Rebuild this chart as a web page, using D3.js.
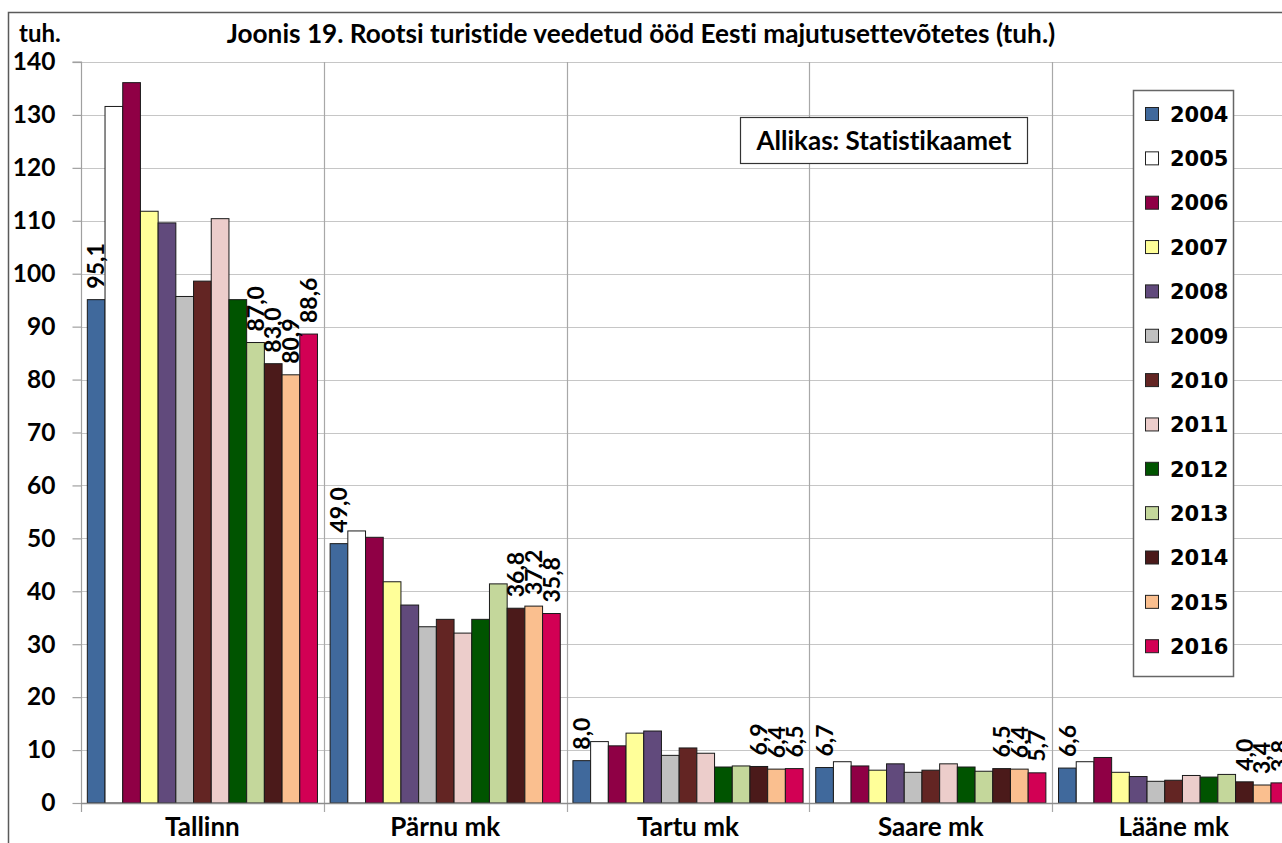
<!DOCTYPE html>
<html>
<head>
<meta charset="utf-8">
<script src="https://cdn.jsdelivr.net/npm/d3@7"></script>
<style>
  html, body { margin: 0; padding: 0; background: #fff; }
  svg { display: block; }
  text { font-family: Lato, "Open Sans", sans-serif; font-weight: bold; fill: #000; font-variant-ligatures: none; }
</style>
</head>
<body>
<svg id="chart" width="1282" height="843"></svg>
<script>
const title = "Joonis 19. Rootsi turistide veedetud ööd Eesti majutusettevõtetes (tuh.)";
const unitLabel = "tuh.";
const sourceLabel = "Allikas: Statistikaamet";
const categories = ["Tallinn", "Pärnu mk", "Tartu mk", "Saare mk", "Lääne mk"];
const years = ["2004","2005","2006","2007","2008","2009","2010","2011","2012","2013","2014","2015","2016"];
const yTicks = [0,10,20,30,40,50,60,70,80,90,100,110,120,130,140];

const tallinn = [95.1,131.6,136.1,111.8,109.6,95.7,98.6,110.4,95.1,87.0,83.0,80.9,88.6];
const parnu   = [49.0,51.4,50.2,41.8,37.4,33.3,34.7,32.1,34.7,41.4,36.8,37.2,35.8];
const tartu   = [8.0,11.6,10.8,13.2,13.6,9.0,10.4,9.4,6.8,7.0,6.9,6.4,6.5];
const saare   = [6.7,7.8,7.0,6.2,7.4,5.8,6.2,7.4,6.8,6.0,6.5,6.4,5.7];
const laane   = [6.6,7.8,8.6,5.8,5.0,4.1,4.3,5.2,4.9,5.4,4.0,3.4,3.8];

const colors = ["#40699c","#ffffff","#8f0045","#ffff99","#614a7c","#c0c0c0","#632523","#eccdcb","#005400","#c4d79b","#4b1a1a","#fabf8f","#d20054"];

// which bars carry a value label: [category, year]
const labelled = [
  ["Tallinn","2004"],["Tallinn","2013"],["Tallinn","2014"],["Tallinn","2015"],["Tallinn","2016"],
  ["Pärnu mk","2004"],["Pärnu mk","2014"],["Pärnu mk","2015"],["Pärnu mk","2016"],
  ["Tartu mk","2004"],["Tartu mk","2014"],["Tartu mk","2015"],["Tartu mk","2016"],
  ["Saare mk","2004"],["Saare mk","2014"],["Saare mk","2015"],["Saare mk","2016"],
  ["Lääne mk","2004"],["Lääne mk","2014"],["Lääne mk","2015"],["Lääne mk","2016"]
];

const valuesByCat = {"Tallinn": tallinn, "Pärnu mk": parnu, "Tartu mk": tartu, "Saare mk": saare, "Lääne mk": laane};
const rows = [];
categories.forEach(c => years.forEach((yr, i) => rows.push({cat: c, year: yr, value: valuesByCat[c][i], color: colors[i]})));

const svg = d3.select("#chart");
const plotLeft = 81, plotTop = 62, plotBottom = 803, catW = 242.8;

const x0 = d3.scaleBand().domain(categories).range([plotLeft, plotLeft + catW * categories.length]).padding(0);
const x1 = d3.scaleBand().domain(years).range([0, x0.bandwidth()]).paddingInner(0).paddingOuter(0.357);
const y = d3.scaleLinear().domain([0, 140]).range([plotBottom, plotTop]);

// outer chart border
svg.append("rect").attr("x", 8.5).attr("y", 12.5).attr("width", 1400).attr("height", 900)
  .attr("fill", "#fff").attr("stroke", "#5a5a5a").attr("stroke-width", 1.5);

// horizontal gridlines
svg.append("g").selectAll("line").data(yTicks.slice(1)).join("line")
  .attr("x1", plotLeft).attr("x2", 1400)
  .attr("y1", d => Math.round(y(d)) + 0.5).attr("y2", d => Math.round(y(d)) + 0.5)
  .attr("stroke", "#c6c6c6").attr("stroke-width", 1.2);

// vertical category separators
svg.append("g").selectAll("line").data(categories.slice(1).concat(["__end"])).join("line")
  .attr("x1", (d, i) => Math.round(plotLeft + catW * (i + 1)) + 0.5)
  .attr("x2", (d, i) => Math.round(plotLeft + catW * (i + 1)) + 0.5)
  .attr("y1", plotTop).attr("y2", plotBottom + 9)
  .attr("stroke", "#a8a8a8").attr("stroke-width", 1.2);

// y axis
const yAxis = d3.axisLeft(y).tickValues(yTicks).tickSize(9).tickPadding(17).tickFormat(d3.format("d"));
const gy = svg.append("g").attr("transform", `translate(${plotLeft + 0.5},0)`).call(yAxis);
gy.select(".domain").attr("stroke", "#a0a0a0").attr("stroke-width", 1.2).attr("d", `M-9,${plotTop}H0V${plotBottom + 9}`);
gy.selectAll(".tick line").attr("stroke", "#a0a0a0").attr("stroke-width", 1.2);
gy.selectAll(".tick text").style("font-family", "Lato, sans-serif").style("font-weight", "bold")
  .style("font-size", "24.5px").attr("fill", "#000");

// bars
svg.append("g").selectAll("rect").data(rows).join("rect")
  .attr("x", d => x0(d.cat) + x1(d.year))
  .attr("y", d => y(d.value))
  .attr("width", x1.bandwidth())
  .attr("height", d => y(0) - y(d.value))
  .attr("fill", d => d.color)
  .attr("stroke", "#1a1a1a").attr("stroke-width", 1);

// x axis line
svg.append("line").attr("x1", plotLeft).attr("x2", 1400)
  .attr("y1", plotBottom + 0.5).attr("y2", plotBottom + 0.5)
  .attr("stroke", "#8c8c8c").attr("stroke-width", 1.5);

// category labels
const xAxis = d3.axisBottom(x0).tickSize(0).tickPadding(0);
const gx = svg.append("g").attr("transform", `translate(0,${plotBottom})`).call(xAxis);
gx.select(".domain").remove();
gx.selectAll(".tick text").style("font-family", "Lato, sans-serif").style("font-weight", "bold")
  .style("font-size", "26px").attr("fill", "#000").attr("dy", "1.27em");

// value labels
const fmt = v => d3.format(".1f")(v).replace(".", ",");
const labelRows = rows.filter(r => labelled.some(l => l[0] === r.cat && l[1] === r.year));
svg.append("g").selectAll("text").data(labelRows).join("text")
  .attr("transform", d => `translate(${x0(d.cat) + x1(d.year) + x1.bandwidth() / 2},${y(d.value) - 11}) rotate(-90)`)
  .attr("dy", "0.36em")
  .attr("text-anchor", "start")
  .style("font-size", "23px")
  .text(d => fmt(d.value));

// title + unit
svg.append("text").attr("x", 641).attr("y", 43).attr("text-anchor", "middle")
  .style("font-size", "26.2px").text(title);
svg.append("text").attr("x", 19).attr("y", 42).style("font-size", "24px").text(unitLabel);

// source box
svg.append("rect").attr("x", 740.5).attr("y", 117.5).attr("width", 287).attr("height", 46)
  .attr("fill", "#fff").attr("stroke", "#333").attr("stroke-width", 1.2);
svg.append("text").attr("x", 884).attr("y", 150).attr("text-anchor", "middle")
  .style("font-size", "26px").text(sourceLabel);

// legend
const lg = svg.append("g");
lg.append("rect").attr("x", 1133.5).attr("y", 90.5).attr("width", 100).attr("height", 586)
  .attr("fill", "#fff").attr("stroke", "#666").attr("stroke-width", 1.5);
const items = lg.selectAll("g.item").data(years).join("g").attr("class", "item")
  .attr("transform", (d, i) => `translate(1145,${114 + i * 44.35})`);
items.append("rect").attr("x", 0.5).attr("y", -6.5).attr("width", 13).attr("height", 13)
  .attr("fill", (d, i) => colors[i]).attr("stroke", "#222").attr("stroke-width", 1);
items.append("text").attr("x", 25).attr("dy", "0.37em")
  .style("font-family", "'DejaVu Sans', Verdana, sans-serif").style("font-size", "21px")
  .text(d => d);
</script>
</body>
</html>
